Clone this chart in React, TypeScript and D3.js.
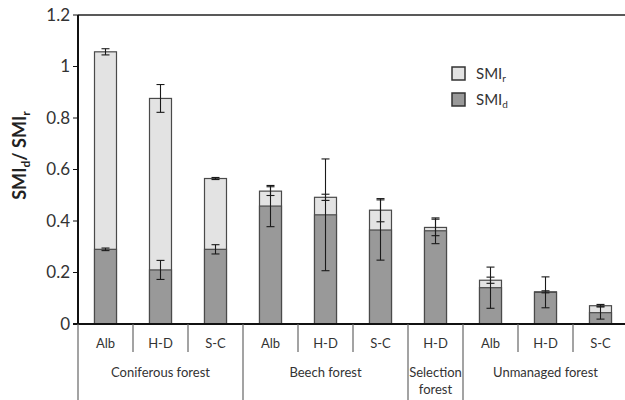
import React from "react";
import * as d3 from "d3";

const groups = ["Coniferous forest", "Beech forest", "Selection forest", "Unmanaged forest"];
const sites = ["Alb", "H-D", "S-C", "Alb", "H-D", "S-C", "H-D", "Alb", "H-D", "S-C"];
const groupOf = [0, 0, 0, 1, 1, 1, 2, 3, 3, 3];
const smiR = [1.057, 0.876, 0.565, 0.516, 0.492, 0.442, 0.375, 0.17, 0.125, 0.071];
const smiRErr = [0.012, 0.054, 0.004, 0.017, 0.012, 0.045, 0.032, 0.012, 0.004, 0.005];
const smiD = [0.29, 0.21, 0.29, 0.458, 0.424, 0.365, 0.362, 0.141, 0.123, 0.044];
const smiDErr = [0.005, 0.037, 0.018, 0.08, 0.217, 0.117, 0.05, 0.08, 0.06, 0.025];
const yTicks = [0, 0.2, 0.4, 0.6, 0.8, 1, 1.2];

const W = 625, H = 400;
const left = 78, right = 628, top = 15, base = 324;
const font = "Lato, 'Open Sans', sans-serif";
const lightFill = "#e3e3e3", darkFill = "#999999", barStroke = "#4a4a4a";

export default function App() {
  const ids = sites.map((_, i) => String(i));
  const x = d3.scaleBand().domain(ids).range([left, right]).padding(0);
  const y = d3.scaleLinear().domain([0, 1.2]).range([base, top]);
  const bw = x.bandwidth() * 0.4;
  const cx = (i: number) => (x(String(i)) as number) + x.bandwidth() / 2;

  // group spans
  const spans = groups.map((g, gi) => {
    const idx = groupOf.map((v, i) => (v === gi ? i : -1)).filter(i => i >= 0);
    const x0 = x(String(idx[0])) as number;
    const x1 = (x(String(idx[idx.length - 1])) as number) + x.bandwidth();
    return { g, x0, x1, idx };
  });

  const errBar = (i: number, v: number, e: number, key: string) => (
    <g key={key} stroke="#1a1a1a" strokeWidth={1.1}>
      <line x1={cx(i)} x2={cx(i)} y1={y(v - e)} y2={y(v + e)} />
      <line x1={cx(i) - 4} x2={cx(i) + 4} y1={y(v - e)} y2={y(v - e)} />
      <line x1={cx(i) - 4} x2={cx(i) + 4} y1={y(v + e)} y2={y(v + e)} />
    </g>
  );

  return (
    <div style={{ position: "absolute", left: 0, top: 0 }}>
      <svg width={W} height={H} style={{ display: "block", background: "#fff" }} fontFamily={font}>
        {/* top frame line */}
        <line x1={left} x2={W} y1={top} y2={top} stroke="#222" strokeWidth={1.5} />
        {/* y axis */}
        <line x1={left} x2={left} y1={top} y2={base} stroke="#111" strokeWidth={2} />
        {yTicks.map(t => (
          <g key={t}>
            <line x1={left - 5} x2={left} y1={y(t)} y2={y(t)} stroke="#111" strokeWidth={1} />
            <text x={left - 8} y={y(t)} dy="0.35em" textAnchor="end" fontSize={17} fill="#333">
              {String(t)}
            </text>
          </g>
        ))}
        <text transform={`translate(26,${(top + base) / 2 - 14}) rotate(-90)`} textAnchor="middle"
          fontSize={18} fontWeight="bold" fill="#222">
          SMI<tspan fontSize={12} dy={4}>d</tspan><tspan dy={-4}>/ SMI</tspan><tspan fontSize={12} dy={4}>r</tspan>
        </text>

        {/* bars */}
        {sites.map((_, i) => (
          <g key={"b" + i}>
            <rect x={cx(i) - bw / 2} width={bw} y={y(smiR[i])} height={base - y(smiR[i])}
              fill={lightFill} stroke={barStroke} strokeWidth={1.2} />
            <rect x={cx(i) - bw / 2} width={bw} y={y(smiD[i])} height={base - y(smiD[i])}
              fill={darkFill} stroke={barStroke} strokeWidth={1.2} />
          </g>
        ))}
        {sites.map((_, i) => errBar(i, smiR[i], smiRErr[i], "er" + i))}
        {sites.map((_, i) => errBar(i, smiD[i], smiDErr[i], "ed" + i))}

        {/* x axis */}
        <line x1={left - 5} x2={W} y1={base} y2={base} stroke="#111" strokeWidth={2} />
        {sites.map((s, i) => (
          <text key={"s" + i} x={cx(i)} y={348} textAnchor="middle" fontSize={13} fill="#333">{s}</text>
        ))}
        {sites.map((_, i) => i > 0 && groupOf[i] === groupOf[i - 1] ? (
          <line key={"t" + i} x1={x(String(i)) as number} x2={x(String(i)) as number} y1={base} y2={352}
            stroke="#666" strokeWidth={1.2} />
        ) : null)}
        {spans.map((s, gi) => (
          <g key={"g" + gi}>
            <line x1={s.x0} x2={s.x0} y1={base} y2={H} stroke="#666" strokeWidth={1.2} />
            {s.g === "Selection forest" ? (
              <text x={(s.x0 + s.x1) / 2} y={377} textAnchor="middle" fontSize={13} fill="#333">
                <tspan x={(s.x0 + s.x1) / 2}>Selection</tspan>
                <tspan x={(s.x0 + s.x1) / 2} dy={17}>forest</tspan>
              </text>
            ) : (
              <text x={(s.x0 + s.x1) / 2} y={377} textAnchor="middle" fontSize={13} fill="#333">{s.g}</text>
            )}
          </g>
        ))}

        {/* legend */}
        <rect x={452} y={67} width={13} height={13} fill={lightFill} stroke="#333" strokeWidth={1.5} />
        <text x={476} y={79} fontSize={15} fill="#333">SMI<tspan fontSize={10} dy={3}>r</tspan></text>
        <rect x={452} y={93} width={13} height={13} fill={darkFill} stroke="#333" strokeWidth={1.5} />
        <text x={476} y={105} fontSize={15} fill="#333">SMI<tspan fontSize={10} dy={3}>d</tspan></text>
      </svg>
    </div>
  );
}
